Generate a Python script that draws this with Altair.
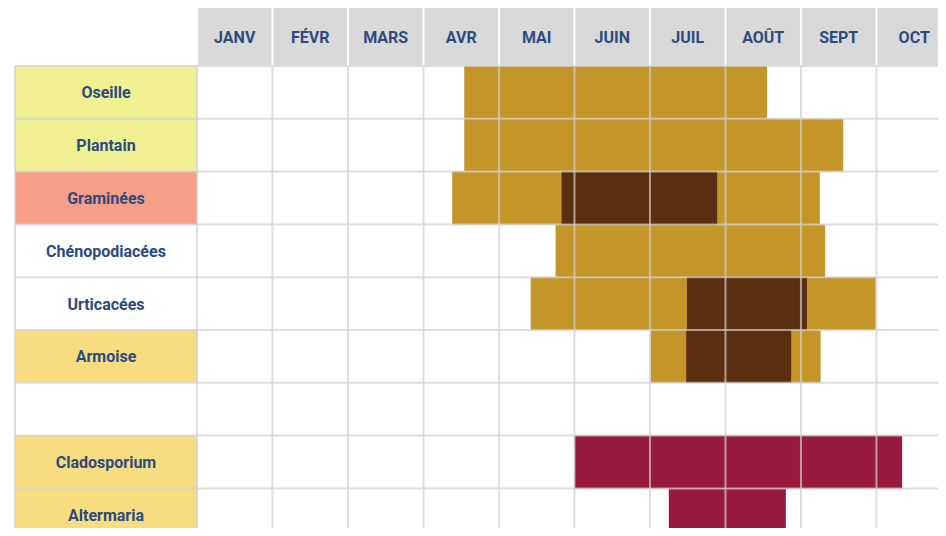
import altair as alt
import pandas as pd

# ---------------- data ----------------
months = ["JANV", "FÉVR", "MARS", "AVR", "MAI", "JUIN", "JUIL", "AOÛT", "SEPT", "OCT"]
rows = ["Oseille", "Plantain", "Graminées", "Chénopodiacées", "Urticacées",
        "Armoise", "", "Cladosporium", "Altermaria"]
label_fill = ["#F0EF91", "#F0EF91", "#F59F88", "#FFFFFF", "#FFFFFF",
              "#F8DD80", "#FFFFFF", "#F8DD80", "#F8DD80"]

# pollen season (month units, 0 = start of January)
pollen_rows = [0, 1, 2, 3, 4, 5]
pollen_start = [3.54, 3.54, 3.38, 4.75, 4.42, 6.01]
pollen_end = [7.55, 8.56, 8.25, 8.32, 8.99, 8.26]

# peak season
peak_rows = [2, 4, 5]
peak_start = [4.83, 6.49, 6.48]
peak_end = [6.89, 8.08, 7.87]

# mould season
mold_rows = [7, 8]
mold_start = [5.00, 6.25]
mold_end = [9.34, 7.80]

# ---------------- layout ----------------
X_MIN, X_MAX = -2.503, 9.815
LABEL_LEFT = -2.41
Y_TOP, Y_BOT = -1.098, 8.75
W, H = 930, 520

GOLD = "#C4962A"
BROWN = "#5A2E0E"
CRIMSON = "#98193E"
HEADER = "#D9D9D9"
TEXT = "#2B4B80"
FONT = "Roboto"
FS = 16

xs = alt.Scale(domain=[X_MIN, X_MAX], nice=False, zero=False)
ys = alt.Scale(domain=[Y_TOP, Y_BOT], nice=False, zero=False, reverse=True)

def enc_rect():
    return dict(
        x=alt.X("x:Q", scale=xs, axis=None),
        x2="x2:Q",
        y=alt.Y("y:Q", scale=ys, axis=None),
        y2="y2:Q",
        color=alt.Color("fill:N", scale=None),
    )

# header cells
gap = 0.013
header_df = pd.DataFrame({
    "x": [i + gap for i in range(len(months))],
    "x2": [i + 1 - gap for i in range(len(months))],
    "y": [Y_TOP] * len(months),
    "y2": [-0.012] * len(months),
    "fill": [HEADER] * len(months),
})
header_text_df = pd.DataFrame({
    "x": [i + 0.5 for i in range(len(months))],
    "y": [Y_TOP / 2] * len(months),
    "t": months,
})

# label cells
label_df = pd.DataFrame({
    "x": [LABEL_LEFT] * len(rows),
    "x2": [0.0] * len(rows),
    "y": list(range(len(rows))),
    "y2": [i + 1 for i in range(len(rows))],
    "fill": label_fill,
})
label_text_df = pd.DataFrame({
    "x": [LABEL_LEFT / 2] * len(rows),
    "y": [i + 0.5 for i in range(len(rows))],
    "t": rows,
})

# season bars
bars = []
for r, s, e in zip(pollen_rows, pollen_start, pollen_end):
    bars.append(dict(x=s, x2=e, y=r, y2=r + 1, fill=GOLD))
for r, s, e in zip(peak_rows, peak_start, peak_end):
    bars.append(dict(x=s, x2=e, y=r, y2=r + 1, fill=BROWN))
for r, s, e in zip(mold_rows, mold_start, mold_end):
    bars.append(dict(x=s, x2=e, y=r, y2=r + 1, fill=CRIMSON))
bars_df = pd.DataFrame(bars)

# grid lines
grid = []
for i in range(len(months) + 1):
    grid.append(dict(x=float(i), x2=float(i), y=0.0, y2=Y_BOT + 1))
grid.append(dict(x=LABEL_LEFT, x2=LABEL_LEFT, y=0.0, y2=Y_BOT + 1))
for j in range(len(rows) + 1):
    grid.append(dict(x=LABEL_LEFT, x2=X_MAX + 1, y=float(j), y2=float(j)))
grid_df = pd.DataFrame(grid)

header = alt.Chart(header_df).mark_rect(clip=True).encode(**enc_rect())
labels = alt.Chart(label_df).mark_rect(clip=True).encode(**enc_rect())
bar_layer = alt.Chart(bars_df).mark_rect(clip=True).encode(**enc_rect())
grid_layer = alt.Chart(grid_df).mark_rule(
    clip=True, color="#D0D0D0", strokeWidth=2, opacity=0.7
).encode(
    x=alt.X("x:Q", scale=xs, axis=None), x2="x2:Q",
    y=alt.Y("y:Q", scale=ys, axis=None), y2="y2:Q",
)
header_text = alt.Chart(header_text_df).mark_text(
    font=FONT, fontWeight="bold", fontSize=FS, color=TEXT,
    align="center", baseline="middle", dy=1.5,
).encode(
    x=alt.X("x:Q", scale=xs, axis=None),
    y=alt.Y("y:Q", scale=ys, axis=None),
    text="t:N",
)
label_text = alt.Chart(label_text_df).mark_text(
    font=FONT, fontWeight="bold", fontSize=FS, color=TEXT,
    align="center", baseline="middle", dy=1,
).encode(
    x=alt.X("x:Q", scale=xs, axis=None),
    y=alt.Y("y:Q", scale=ys, axis=None),
    text="t:N",
)

chart = alt.layer(
    header, labels, bar_layer, grid_layer, header_text, label_text
).properties(
    width=W, height=H, padding=0, autosize="none"
).configure_view(stroke=None)

chart.save("out.html", embed_options={"renderer": "svg", "actions": False})
